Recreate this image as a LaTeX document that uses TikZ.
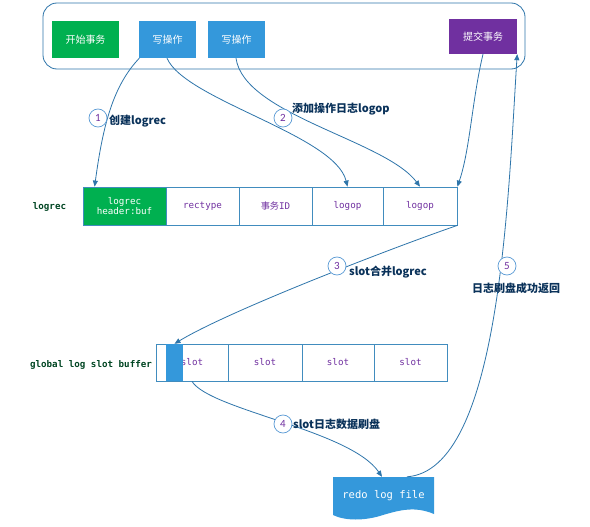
\documentclass[tikz,border=0pt]{standalone}
\usepackage{fontspec}
\setmonofont{DejaVu Sans Mono}
\setsansfont{Carlito}
\newfontfamily\cjk{Noto Sans CJK SC}
\usetikzlibrary{arrows.meta}
\definecolor{lineblue}{RGB}{46,117,170}
\definecolor{cellblue}{RGB}{65,140,190}
\definecolor{boxblue}{RGB}{52,152,219}
\definecolor{boxgreen}{RGB}{0,176,80}
\definecolor{boxpurple}{RGB}{112,48,160}
\definecolor{txtpurple}{RGB}{112,48,160}
\definecolor{lblnavy}{RGB}{10,50,90}
\definecolor{lblgreen}{RGB}{0,70,35}
\definecolor{circblue}{RGB}{91,155,213}
\begin{document}
\begin{tikzpicture}[x=1pt,y=-1pt,
  colorbox/.style={inner sep=0pt, text=white, font=\cjk\fontsize{10}{12}\selectfont, minimum height=37},
  cell/.style={draw=cellblue, line width=0.8pt, inner sep=0pt, minimum height=38, text=txtpurple, font=\ttfamily\fontsize{9.2}{10.5}\selectfont},
  conn/.style={draw=lineblue, line width=0.8pt, -{Triangle[length=6pt,width=5pt]}},
  numcirc/.style={circle, draw=circblue, line width=0.7pt, fill=white, minimum size=18pt, inner sep=0pt, text=txtpurple, font=\sffamily\fontsize{11}{11}\selectfont},
  steplabel/.style={inner sep=0pt, text=lblnavy, font=\cjk\bfseries\fontsize{11}{12}\selectfont},
  rowlabel/.style={inner sep=0pt, text=lblgreen, font=\ttfamily\bfseries\fontsize{9.2}{10}\selectfont}]
\useasboundingbox (0,0) rectangle (590,527);
\fill[white] (0,0) rectangle (590,527);

% outer frame
\node[draw=lineblue, line width=0.8pt, rounded corners=14pt, minimum width=482, minimum height=66, inner sep=0pt] (outer) at (284,36) {};

% top boxes
\node[colorbox, fill=boxgreen, minimum width=67] (start) at (85.5,39.5) {开始事务};
\node[colorbox, fill=boxblue, minimum width=57] (wop1) at (167.5,39.5) {写操作};
\node[colorbox, fill=boxblue, minimum width=57] (wop2) at (236.5,39.5) {写操作};
\node[colorbox, fill=boxpurple, minimum width=68, minimum height=35] (commit) at (483,36.5) {提交事务};

% logrec row
\node[rowlabel] (lrlabel) at (49.5,207) {logrec};
\node[cell, fill=boxgreen, text=white, minimum width=83, align=center] (c1) at (124.5,206) {logrec\\header:buf};
\node[cell, minimum width=73] (c2) at (202.5,206) {rectype};
\node[cell, minimum width=73] (c3) at (275.5,206) {{\cjk 事务}ID};
\node[cell, minimum width=71] (c4) at (347.5,206) {logop};
\node[cell, minimum width=74] (c5) at (420,206) {logop};

% slot row
\node[rowlabel] (sblabel) at (91,365) {global log slot buffer};
\node[cell, minimum width=72, minimum height=37] (s1) at (192,362.5) {slot};
\node[cell, minimum width=74, minimum height=37] (s2) at (265,362.5) {slot};
\node[cell, minimum width=72, minimum height=37] (s3) at (338,362.5) {slot};
\node[cell, minimum width=73, minimum height=37] (s4) at (410.5,362.5) {slot};
\node[fill=boxblue, minimum width=17, minimum height=37, inner sep=0pt] (marker) at (174.5,362.5) {};

% redo log file
\fill[boxblue] (333,477) -- (434,477) -- (434,514) .. controls (415,506) and (400,510) .. (383,515) .. controls (365,521) and (345,521) .. (333,515) -- cycle;
\node[inner sep=0pt, minimum width=101, minimum height=38, text=white, font=\ttfamily\fontsize{10.5}{12}\selectfont] (redo) at (383.5,496) {redo log file};

% connectors
\draw[conn] ([xshift=0.5pt]wop1.south west) .. controls (113,86) and (103,125) .. ([xshift=12pt]c1.north west);
\draw[conn] ([xshift=-0.5pt]wop1.south) .. controls (185,100) and (335,135) .. (c4.north);
\draw[conn] ([xshift=-0.5pt]wop2.south) .. controls (244,115) and (385,140) .. (c5.north);
\draw[conn] (commit.south) .. controls (472,100) and (470,150) .. (c5.north east);
\draw[conn] (c5.south east) .. controls (400,245) and (230,310) .. (marker.north);
\draw[conn] (s1.south) .. controls (210,410) and (350,430) .. ([xshift=-1.5pt]redo.north);
\draw[conn] ([xshift=23.5pt]redo.north) .. controls (500,470) and (508,200) .. (commit.south east);

% step markers
\node[numcirc] (n1) at (98,118) {1};
\node[numcirc] (n2) at (283,118) {2};
\node[numcirc] (n3) at (337,266) {3};
\node[numcirc] (n4) at (283,424) {4};
\node[numcirc] (n5) at (507,266) {5};

\node[steplabel, anchor=west] (l1) at (109,121) {创建logrec};
\node[steplabel, anchor=west] (l2) at (292,109) {添加操作日志logop};
\node[steplabel, anchor=west] (l3) at (349,272) {slot合并logrec};
\node[steplabel] (l5) at (516,288) {日志刷盘成功返回};
\node[steplabel, anchor=west] (l4) at (293,424) {slot日志数据刷盘};
\end{tikzpicture}
\end{document}
